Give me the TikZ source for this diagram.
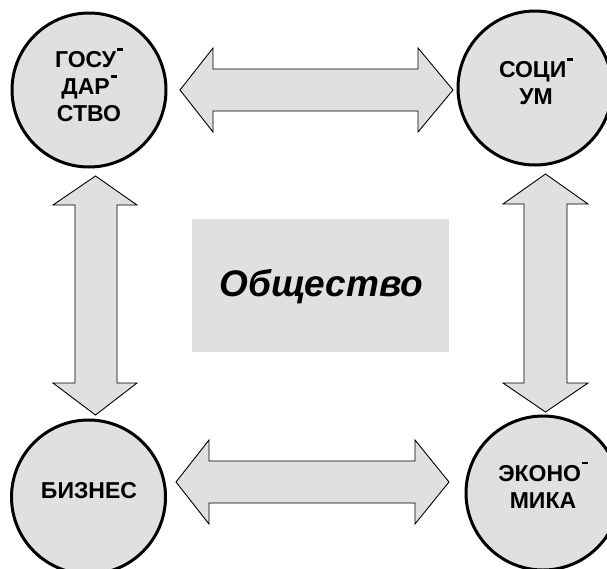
\documentclass[tikz,border=0pt]{standalone}
\usepackage{fontspec}
\setmainfont{Liberation Sans}
\definecolor{boxgray}{HTML}{E0E0E0}
\newcommand\hy{\kern1.2pt\smash{\raisebox{17pt}{\rule{5.5pt}{2.5pt}}}}
\tikzset{
  actor/.style={circle, draw=black, line width=3pt, fill=boxgray, minimum size=154pt, inner sep=0pt},
  lbl/.style={align=center, font=\bfseries\fontsize{23}{27}\selectfont, inner sep=0pt},
  blockarrow/.style={draw=black, line width=0.9pt, fill=boxgray, line join=miter},
}
\begin{document}
\begin{tikzpicture}[x=1pt, y=-1pt]
\useasboundingbox (0,0) rectangle (607,568);
% circles
\node[actor] (gos) at (89,90) {};
\node[actor] (soc) at (535,88) {};
\node[actor] (biz) at (88.5,497) {};
\node[actor] (eco) at (543,493) {};
% labels
\node[lbl] (gosl) at (89,87) {ГОСУ\hy\\ДАР\hy\\СТВО};
\node[lbl] (socl) at (536,83.5) {СОЦИ\hy\\УМ};
\node[lbl] (bizl) at (89,491) {БИЗНЕС};
\node[lbl] (ecol) at (543,486.5) {ЭКОНО\hy\\МИКА};
% central box
\node[fill=boxgray, minimum width=257pt, minimum height=133pt, inner sep=0pt] (soc0) at (320.5,285.5) {};
\node[font=\bfseries\itshape\fontsize{37}{40}\selectfont, inner sep=0pt, anchor=base] (obs) at (321.5,296) {Общество};
% top double arrow (gos <-> soc)
\draw[blockarrow] (180,90) -- (213,48) -- (213,69) -- (418,69) -- (418,48) -- (453,90)
  -- (418,132) -- (418,111) -- (213,111) -- (213,132) -- cycle;
% bottom double arrow (biz <-> eco)
\draw[blockarrow] (176,482) -- (209,440) -- (209,461) -- (415,461) -- (415,440) -- (449,482)
  -- (415,524) -- (415,503) -- (209,503) -- (209,524) -- cycle;
% left vertical double arrow (gos <-> biz)
\draw[blockarrow] (95.5,176) -- (137,205) -- (117,205) -- (117,383) -- (137,383) -- (95.5,415)
  -- (53,383) -- (75,383) -- (75,205) -- (53,205) -- cycle;
% right vertical double arrow (soc <-> eco)
\draw[blockarrow] (545.5,174) -- (588,204) -- (567,204) -- (567,383) -- (588,383) -- (545.5,412)
  -- (503,383) -- (524,383) -- (524,204) -- (503,204) -- cycle;
\end{tikzpicture}
\end{document}
